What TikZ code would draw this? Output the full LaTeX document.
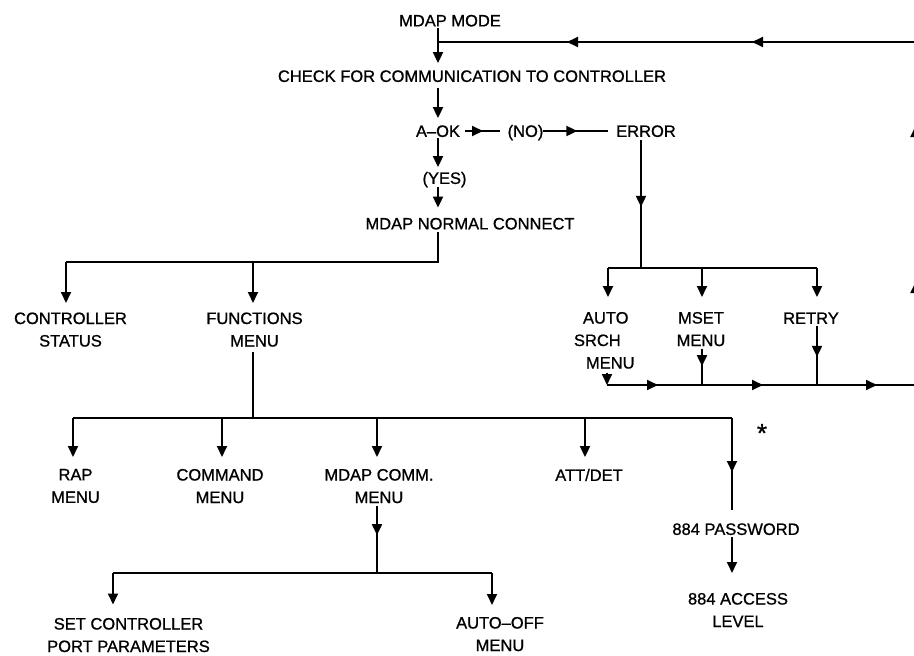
\documentclass[tikz,border=0pt]{standalone}
\usepackage{fontspec}
\setmainfont{Liberation Sans}[FakeBold=0.9]
\usetikzlibrary{arrows.meta,calc,decorations.markings}
\tikzset{
  lbl/.style={font=\fontsize{16.5}{22.5}\selectfont, inner sep=0pt, outer sep=0pt, text height=11.8pt, text depth=0pt},
  ml/.style={font=\fontsize{16.5}{22.5}\selectfont, inner sep=0pt, outer sep=0pt, align=center, anchor=north},
  conn/.style={line width=1.8pt, draw=black},
  arr/.style={conn, -{Triangle[length=11pt,width=10pt]}},
  tipsat/.style={postaction={decorate, decoration={markings, mark=at position #1 with {\arrow{Triangle[length=11pt,width=10pt]}}}}}
}
\begin{document}
\begin{tikzpicture}[x=1pt,y=-1pt]
\useasboundingbox (0,0) rectangle (914,656);
\clip (0,0) rectangle (914,656);
% ---------- nodes ----------
\node[lbl] (mode)   at (450,20.5) {MDAP MODE};
\node[lbl] (check)  at (472,76) {CHECK FOR COMMUNICATION TO CONTROLLER};
\node[lbl] (aok)    at (438,131) {A–OK};
\node[lbl] (no)     at (525.5,131) {(NO)};
\node[lbl] (error)  at (646,131) {ERROR};
\node[lbl] (yes)    at (444.5,178) {(YES)};
\node[lbl] (normal) at (470,223.5) {MDAP NORMAL CONNECT};
\node[ml]  (status) at (70.5,312.5) {CONTROLLER\\STATUS};
\node[ml]  (fn)     at (254.5,312.5) {FUNCTIONS\\MENU};
\node[ml, align=left, anchor=north west] (asm) at (574,312) {\hspace*{9pt}AUTO\\SRCH\\\hspace*{12pt}MENU};
\node[ml]  (mset)   at (701,312) {MSET\\MENU};
\node[lbl] (retry)  at (811,318) {RETRY};
\node[ml]  (rap)    at (75.5,469) {RAP\\MENU};
\node[ml]  (cmd)    at (220,469) {COMMAND\\MENU};
\node[ml]  (comm)   at (379,469) {MDAP COMM.\\MENU};
\node[lbl] (att)    at (589,475) {ATT/DET};
\node[lbl] (pw)     at (736,529) {884 PASSWORD};
\node[ml]  (access) at (738,593) {884 ACCESS\\LEVEL};
\node[ml]  (setc)   at (128.5,618) {SET CONTROLLER\\PORT PARAMETERS};
\node[ml]  (autooff) at (500,617) {AUTO–OFF\\MENU};
\node[font=\fontsize{26}{28}\selectfont, inner sep=0pt, anchor=base] (star) at (762,442) {*};
% ---------- junction coordinates ----------
\coordinate (j0)  at (438,42);
\coordinate (rtr) at (915.5,42);
\coordinate (rbr) at (915.5,385);
\coordinate (r1)  at (607,385);
\coordinate (rm)  at (702,385);
\coordinate (rr)  at (817,385);
\coordinate (b1)  at (438,262);
\coordinate (b1l) at (66,262);
\coordinate (b1m) at (253,262);
\coordinate (b2)  at (253,418);
\coordinate (c1)  at (73,418);
\coordinate (c2)  at (222,418);
\coordinate (c3)  at (377,418);
\coordinate (c4)  at (585,418);
\coordinate (c5)  at (732,418);
\coordinate (b3)  at (377,573);
\coordinate (b3l) at (113,573);
\coordinate (b3r) at (492,573);
\coordinate (e1)  at (641,268);
\coordinate (e1l) at (608,268);
\coordinate (e1m) at (702,268);
\coordinate (e1r) at (817,268);
% ---------- connectors ----------
\draw[arr, shorten <=1.5pt, shorten >=7pt] (mode.south -| j0) -- (check.north -| j0);
\draw[arr, shorten <=6pt, shorten >=7pt] (check.south -| aok) -- (aok.north);
\draw[conn, tipsat=18pt] ($(aok.east)+(5,0)$) -- ($(no.west)+(-8,0)$);
\draw[conn, tipsat=34pt] (no.east) -- ($(error.west)+(-8,0)$);
\draw[arr, shorten <=1pt, shorten >=5pt] (aok.south) -- (yes.north -| aok);
\draw[arr, shorten <=3pt, shorten >=10pt] (yes.south -| aok) -- (normal.north -| aok);
\draw[conn, shorten <=3pt] (normal.south -| b1) -- (b1) -- (b1l);
\draw[arr, shorten >=9.5pt] (b1l) -- (b1l |- status.north);
\draw[arr, shorten >=9.5pt] (b1m) -- (b1m |- fn.north);
% functions bus
\draw[conn, shorten <=5pt] (fn.south -| b2) -- (b2);
\draw[conn] (c1) -- (c5);
\draw[arr, shorten >=12pt] (c1) -- (c1 |- rap.north);
\draw[arr, shorten >=12pt] (c2) -- (c2 |- cmd.north);
\draw[arr, shorten >=12pt] (c3) -- (c3 |- comm.north);
\draw[arr, shorten >=12pt] (c4) -- ($(c4 |- att.north)$);
\draw[conn, tipsat=54pt] (c5) -- ($(c5 |- pw.north)+(0,-13)$);
\draw[arr, shorten <=2pt, shorten >=20pt] (pw.south -| c5) -- (c5 |- access.north);
% mdap comm bus
\draw[conn, tipsat=29pt] ($(comm.south -| b3)+(0,3)$) -- (b3);
\draw[conn] (b3l) -- (b3r);
\draw[arr, shorten >=13.5pt] (b3l) -- (b3l |- setc.north);
\draw[arr, shorten >=12pt] (b3r) -- (b3r |- autooff.north);
% error branch
\draw[conn, tipsat=67pt] ($(error.south -| e1)+(0,3)$) -- (e1);
\draw[conn] (e1l) -- (e1r);
\draw[arr, shorten >=15pt] (e1l) -- (e1l |- asm.north);
\draw[arr, shorten >=15pt] (e1m) -- (e1m |- mset.north);
\draw[arr, shorten >=15pt] (e1r) -- (e1r |- retry.north);
% return path
\draw[arr] ($(r1 |- asm.south)+(0,4)$) -- (r1);
\draw[conn, tipsat=17pt] ($(mset.south -| rm)+(0,3)$) -- (rm);
\draw[conn, tipsat=31pt] ($(retry.south -| rr)+(0,2)$) -- (rr);
\draw[conn, tipsat=51pt, tipsat=156pt, tipsat=270pt] (r1) -- (rbr);
\draw[conn, tipsat=103pt, tipsat=259pt] (rbr) -- (rtr);
\draw[conn, tipsat=163.5pt, tipsat=348.5pt] (rtr) -- (j0);
\end{tikzpicture}
\end{document}
